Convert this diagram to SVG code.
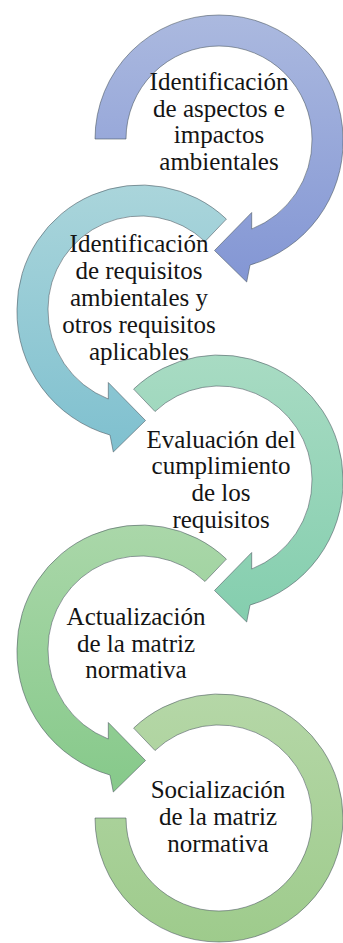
<svg xmlns="http://www.w3.org/2000/svg" width="343" height="943" viewBox="0 0 343 943">
<style>
.ring{stroke:#46525c;stroke-opacity:0.7;stroke-width:0.8;stroke-linejoin:miter}
text{font-family:'Liberation Serif','Times New Roman',serif;font-size:25px;fill:#141414;text-anchor:middle}
</style>
<defs>
<linearGradient id="g1" x1="0" y1="0" x2="0" y2="1"><stop offset="0" stop-color="#abb9df"/><stop offset="1" stop-color="#8396d4"/></linearGradient>
<linearGradient id="g2" x1="0" y1="0" x2="0" y2="1"><stop offset="0" stop-color="#aad5db"/><stop offset="1" stop-color="#7fc0cf"/></linearGradient>
<linearGradient id="g3" x1="0" y1="0" x2="0" y2="1"><stop offset="0" stop-color="#a8dbc3"/><stop offset="1" stop-color="#84ceae"/></linearGradient>
<linearGradient id="g4" x1="0" y1="0" x2="0" y2="1"><stop offset="0" stop-color="#aad7a9"/><stop offset="1" stop-color="#86c98a"/></linearGradient>
<linearGradient id="g5" x1="0" y1="0" x2="0" y2="1"><stop offset="0" stop-color="#b5d7a7"/><stop offset="1" stop-color="#9ecb8c"/></linearGradient>
<path id="arrowA" d="M -124,0 A 124 124 0 0 1 124,0 A 128 128 0 0 1 31,126 L 27.7,143 L -4.5,111.5 L 32.7,73.5 L 32.7,90 A 95 95 0 0 0 93,0 A 93 93 0 0 0 -93,0 Z"/>
<path id="arrowB" d="M -85.4,-89.9 A 124 124 0 0 1 124,0 A 128 128 0 0 1 31,126 L 27.7,143 L -4.5,111.5 L 32.7,73.5 L 32.7,90 A 95 95 0 0 0 93,0 A 93 93 0 0 0 -64,-67.5 Z"/>
</defs>

<g id="node1">
<use href="#arrowA" class="ring" fill="url(#g1)" transform="translate(219,139)"/>
<text x="219" y="90">Identificación</text>
<text x="219" y="116.7">de aspectos e</text>
<text x="219" y="143.3">impactos</text>
<text x="219" y="170">ambientales</text>
</g>

<g id="node2">
<use href="#arrowB" class="ring" fill="url(#g2)" transform="translate(141,309) scale(-1,1)"/>
<text x="139" y="252">Identificación</text>
<text x="139" y="279">de requisitos</text>
<text x="139" y="306">ambientales y</text>
<text x="139" y="333">otros requisitos</text>
<text x="139" y="360">aplicables</text>
</g>

<g id="node3">
<use href="#arrowB" class="ring" fill="url(#g3)" transform="translate(219,479)"/>
<text x="221" y="447.7">Evaluación del</text>
<text x="221" y="474.3">cumplimiento</text>
<text x="221" y="501">de los</text>
<text x="221" y="527.7">requisitos</text>
</g>

<g id="node4">
<use href="#arrowB" class="ring" fill="url(#g4)" transform="translate(141,649) scale(-1,1)"/>
<text x="136" y="625">Actualización</text>
<text x="136" y="651.7">de la matriz</text>
<text x="136" y="678.3">normativa</text>
</g>

<g id="node5">
<path class="ring" fill="url(#g5)" transform="translate(219,818)" d="M -124,0 A 124 124 0 0 0 124,0 A 124 124 0 0 0 -85.4,-89.9 L -64,-67.5 A 93 93 0 0 1 93,0 A 93 93 0 0 1 -93,0 Z"/>
<text x="218" y="798.3">Socialización</text>
<text x="218" y="825">de la matriz</text>
<text x="218" y="851.7">normativa</text>
</g>
</svg>
